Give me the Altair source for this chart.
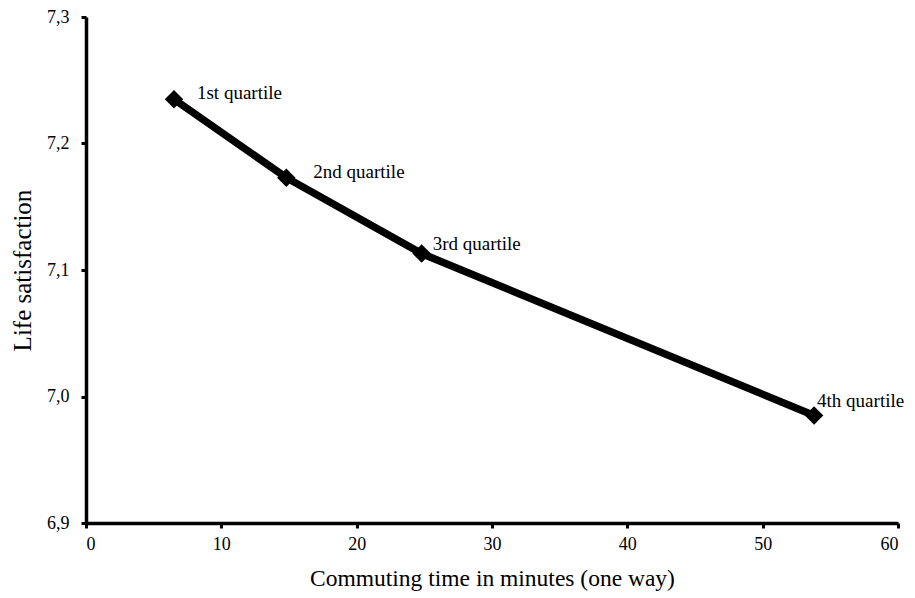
import altair as alt
import pandas as pd

commute = [6.5, 14.8, 24.8, 53.8]
satisfaction = [7.235, 7.173, 7.113, 6.985]
labels = ["1st quartile", "2nd quartile", "3rd quartile", "4th quartile"]

df = pd.DataFrame({"x": commute, "y": satisfaction, "label": labels})

FONT = "Liberation Serif"
W, H = 812, 506
common = dict(grid=False, domainColor="black", domainWidth=3.5, tickColor="black", tickWidth=3, tickSize=5,
              labelColor="black", titleColor="black", labelFont=FONT, titleFont=FONT,
              titleFontWeight="normal", labelFontSize=18)

x_enc = alt.X("x:Q", scale=alt.Scale(domain=[0, 60], nice=False),
              axis=alt.Axis(values=[0, 10, 20, 30, 40, 50, 60], title="Commuting time in minutes (one way)",
                            titleFontSize=23.5, labelPadding=7,
                            titleX=W / 2, titleY=62, titleAlign="center", titleBaseline="alphabetic",
                            **common))
y_enc = alt.Y("y:Q", scale=alt.Scale(domain=[6.9, 7.3], nice=False, zero=False),
              axis=alt.Axis(values=[6.9, 7.0, 7.1, 7.2, 7.3], title="Life satisfaction",
                            labelExpr="replace(format(datum.value, '.1f'), '.', ',')",
                            titleFontSize=25, labelPadding=12,
                            titleX=-64, titleY=H / 2, titleAlign="center", titleBaseline="middle",
                            titleAngle=270, **common))

base = alt.Chart(df).encode(x=x_enc, y=y_enc)

line = base.mark_line(color="black", strokeWidth=7.5)
pts = base.mark_point(shape="diamond", filled=True, color="black", size=340, opacity=1)

offsets = [(23, -6), (27, -6), (11, -10), (3, -14)]
texts = []
for lab, (dx, dy) in zip(labels, offsets):
    texts.append(
        base.transform_filter(alt.datum.label == lab)
        .mark_text(align="left", baseline="middle", dx=dx, dy=dy, fontSize=19, font=FONT, color="black")
        .encode(text="label:N")
    )

chart = alt.layer(line, pts, *texts).properties(
    width=W, height=H,
    autosize=alt.AutoSizeParams(type="none"),
    padding={"left": 78, "top": 9, "right": 9, "bottom": 70},
    background="white",
).configure_view(stroke=None)

chart.save("out.html", embed_options={"renderer": "svg", "actions": False})
